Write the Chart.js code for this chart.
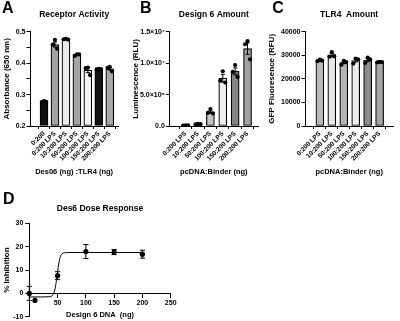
<!DOCTYPE html>
<html>
<head>
<meta charset="utf-8">
<script src="https://cdn.jsdelivr.net/npm/chart.js@4"></script>
<style>
  html, body { margin: 0; padding: 0; background: #fff; width: 400px; height: 321px; overflow: hidden; position: relative; }
  canvas { position: absolute; }
</style>
</head>
<body>
<canvas id="panelA" width="131" height="180" style="left:0;top:0"></canvas>
<canvas id="panelB" width="135" height="180" style="left:131px;top:0"></canvas>
<canvas id="panelC" width="134" height="180" style="left:266px;top:0"></canvas>
<canvas id="panelD" width="260" height="138" style="left:0;top:185px"></canvas>
<script>
// ---------- Panel A: receptor activity ----------
const receptorLabels = ['0:200', '0:200 LPS', '10:200 LPS', '50:200 LPS', '100:200 LPS', '150:200 LPS', '200:200 LPS'];
const receptorMeans  = [0.277, 0.459, 0.476, 0.426, 0.378, 0.381, 0.382];
const receptorErr    = [0.002, 0.008, 0.001, 0.002, 0.008, 0.001, 0.004];
const receptorReps   = [
  [0.279, 0.276, 0.277],
  [0.474, 0.459, 0.446],
  [0.477, 0.476, 0.475],
  [0.428, 0.423, 0.428],
  [0.386, 0.384, 0.362],
  [0.382, 0.380, 0.381],
  [0.388, 0.385, 0.374]
];
const absTickValues = [0.2, 0.3, 0.4, 0.5];
const absTickLabels = ['0.2', '0.3', '0.4', '0.5'];

// ---------- Panel B: Design 6 amount ----------
const binderLabels = ['0:200 LPS', '10:200 LPS', '50:200 LPS', '100:200 LPS', '150:200 LPS', '200:200 LPS'];
const lumMeans = [1.0e5, 3.0e5, 2.2e6, 7.6e6, 8.7e6, 12.3e6];
const lumErr   = [0.5e5, 0.6e5, 0.2e6, 0.6e6, 0.55e6, 0.9e6];
const lumReps  = [
  [1.2e5, 0.6e5, 1.0e5],
  [3.5e5, 2.6e5, 3.0e5],
  [2.7e6, 2.1e6, 2.0e6],
  [8.7e6, 7.2e6, 6.9e6],
  [9.7e6, 8.6e6, 7.8e6],
  [13.5e6, 13.0e6, 10.6e6]
];
const lumTickValues = [0, 5e6, 1e7, 1.5e7];
const lumTickLabels = ['0.0', '5.0×10⁶', '1.0×10⁷', '1.5×10⁷'];

// ---------- Panel C: TLR4 amount ----------
const gfpMeans = [27800, 30000, 26900, 27800, 28000, 27100];
const gfpErr   = [300, 700, 500, 650, 700, 150];
const gfpReps  = [
  [28200, 27500, 27700],
  [31300, 29400, 29600],
  [27600, 26000, 27100],
  [28600, 26500, 28300],
  [29000, 26800, 28300],
  [27200, 27000, 27100]
];
const gfpTickValues = [0, 10000, 20000, 30000, 40000];
const gfpTickLabels = ['0', '10000', '20000', '30000', '40000'];

// ---------- Panel D: dose response ----------
const doseNg     = [0, 10, 50, 100, 150, 200];
const inhibition = [0, -3, 7.6, 17.9, 17.7, 16.8];
const inhibErr   = [3, 0, 1.7, 3, 1.1, 1.7];
const fitNg      = [0, 20, 36, 40, 42, 44, 46, 48, 50, 52, 54, 56, 58, 62, 70, 100, 150, 200];
const fitInhib   = [-1.5, -1.5, -1.4, -1.1, -0.5, 0.6, 2.5, 5.5, 9.2, 12.6, 15.0, 16.4, 17.0, 17.4, 17.5, 17.5, 17.5, 17.5];
const inhibTickValues = [-10, 0, 10, 20, 30];
const inhibTickLabels = ['-10', '0', '10', '20', '30'];
const doseTickValues  = [50, 100, 150, 200, 250];
const doseTickLabels  = ['50', '100', '150', '200', '250'];

// ---------- styling ----------
const FONT = "'Liberation Sans', Arial, Helvetica, sans-serif";
const receptorFill = ['#111111', '#a2a2a2', '#ebebeb', '#a6a6a6', '#f5f5f5', '#111111', '#a8a8a8'];
const lumFill      = ['#bdbdbd', '#dcdcdc', '#c4c4c4', '#f0f0f0', '#858585', '#a2a2a2'];
const gfpFill      = ['#b9b9b9', '#e6e6e6', '#b3b3b3', '#ececec', '#8c8c8c', '#a6a6a6'];
const spread = [0, -0.2, 0.2];   // horizontal scatter of replicate dots

Chart.defaults.font.family = FONT;
Chart.defaults.color = '#000';
Chart.defaults.animation = false;
Chart.defaults.plugins.legend.display = false;
Chart.defaults.plugins.tooltip.enabled = false;

const tickText = (values, labels) => (v) => {
  const k = values.findIndex(t => Math.abs(t - v) < 1e-9 * Math.max(1, Math.abs(t)));
  return k < 0 ? '' : labels[k];
};

// mean ± error whiskers for any dataset carrying an `errors` array
const errorBars = {
  id: 'errorBars',
  afterDatasetsDraw(chart) {
    const ctx = chart.ctx;
    const ys = chart.scales.y;
    chart.data.datasets.forEach((ds, di) => {
      if (!ds.errors) return;
      const meta = chart.getDatasetMeta(di);
      const half = ds.capHalf || 2;
      ctx.save();
      ctx.strokeStyle = '#000';
      ctx.lineWidth = 1;
      meta.data.forEach((el, i) => {
        const e = ds.errors[i];
        if (!e) return;
        const v = ds.data[i].y;
        const x = el.x;
        const yHi = ys.getPixelForValue(v + e);
        const yLo = ys.getPixelForValue(v - e);
        ctx.beginPath();
        ctx.moveTo(x, yHi); ctx.lineTo(x, yLo);
        ctx.moveTo(x - half, yHi); ctx.lineTo(x + half, yHi);
        ctx.moveTo(x - half, yLo); ctx.lineTo(x + half, yLo);
        ctx.stroke();
      });
      ctx.restore();
    });
  }
};

// bold panel letter in the corner
const panelLetter = {
  id: 'panelLetter',
  afterDraw(chart, args, o) {
    if (!o || !o.letter) return;
    const ctx = chart.ctx;
    ctx.save();
    ctx.font = 'bold 16px ' + FONT;
    ctx.fillStyle = '#000';
    ctx.textBaseline = 'alphabetic';
    ctx.textAlign = 'left';
    ctx.fillText(o.letter, o.x, o.y);
    ctx.restore();
  }
};

const axisLine = { display: true, color: '#000', width: 1 };
const tickMarks = (len) => ({ display: true, drawOnChartArea: false, drawTicks: true, tickLength: len, color: '#000', lineWidth: 1 });

function barPanel(id, p) {
  const dots = [];
  p.reps.forEach((set, i) => set.forEach((v, j) => dots.push({ x: i + spread[j], y: v })));
  return new Chart(document.getElementById(id), {
    type: 'bar',
    data: {
      datasets: [
        { type: 'scatter', data: dots, pointRadius: 2.1, pointBackgroundColor: '#000', pointBorderWidth: 0, order: 0 },
        { type: 'bar', data: p.means.map((v, i) => ({ x: i, y: v })), errors: p.errors, capHalf: 2,
          base: p.yMin, backgroundColor: p.fill, borderColor: '#000', borderWidth: 1.2,
          borderSkipped: false, barThickness: 8, order: 1 }
      ]
    },
    options: {
      responsive: false,
      layout: { padding: { left: 0, right: p.padRight, top: 0, bottom: 0 } },
      plugins: {
        title: { display: true, text: p.title, fullSize: false, color: '#000',
                 font: { size: 8.5, weight: 'bold' }, padding: { top: 9.9, bottom: 11.6 } },
        panelLetter: { letter: p.letter, x: p.letterX, y: 13.3 }
      },
      scales: {
        x: {
          type: 'linear', min: p.xMin, max: p.xMax,
          afterBuildTicks: (s) => { s.ticks = p.labels.map((_, i) => ({ value: i })); },
          ticks: { autoSkip: false, minRotation: 45, maxRotation: 45, padding: 1,
                   font: { size: 6.5, weight: 'bold' }, callback: (v) => p.labels[v] },
          grid: tickMarks(3),
          border: axisLine,
          title: { display: true, text: p.xTitle, color: '#000', font: { size: 7.5, weight: 'bold' },
                   padding: { top: 0, bottom: 3.5 } },
          afterFit: (s) => { s.height = 54; }
        },
        y: {
          min: p.yMin, max: p.yMax,
          ticks: { stepSize: p.yStep, padding: 1, font: { size: 7, weight: 'bold' },
                   callback: tickText(p.tickValues, p.tickLabels) },
          grid: tickMarks(3.5),
          border: axisLine,
          title: { display: true, text: p.yTitle, color: '#000', font: { size: 8, weight: 'bold' },
                   padding: { top: p.yTitlePad, bottom: 0 } },
          afterFit: (s) => { s.width = p.yWidth; }
        }
      }
    },
    plugins: [errorBars, panelLetter]
  });
}

barPanel('panelA', {
  letter: 'A', letterX: 2, title: 'Receptor Activity',
  labels: receptorLabels, means: receptorMeans, errors: receptorErr, reps: receptorReps, fill: receptorFill,
  xMin: -0.704, xMax: 6.203, yMin: 0.2, yMax: 0.5, yStep: 0.05,
  tickValues: absTickValues, tickLabels: absTickLabels,
  xTitle: 'Des06 (ng) :TLR4 (ng)', yTitle: 'Absorbance (650 nm)', yTitlePad: 1.7,
  yWidth: 30, padRight: 12.7
});

barPanel('panelB', {
  letter: 'B', letterX: 9, title: 'Design 6 Amount',
  labels: binderLabels, means: lumMeans, errors: lumErr, reps: lumReps, fill: lumFill,
  xMin: -0.72, xMax: 5.27, yMin: 0, yMax: 1.5e7, yStep: 5e6,
  tickValues: lumTickValues, tickLabels: lumTickLabels,
  xTitle: 'pcDNA:Binder (ng)', yTitle: 'Luminescence (RLU)', yTitlePad: 0.2,
  yWidth: 38.3, padRight: 7.7
});

barPanel('panelC', {
  letter: 'C', letterX: 6.3, title: 'TLR4  Amount',
  labels: binderLabels, means: gfpMeans, errors: gfpErr, reps: gfpReps, fill: gfpFill,
  xMin: -0.63, xMax: 5.53, yMin: 0, yMax: 40000, yStep: 10000,
  tickValues: gfpTickValues, tickLabels: gfpTickLabels,
  xTitle: 'pcDNA:Binder (ng)', yTitle: 'GFP Fluoresence (RFU)', yTitlePad: 0.5,
  yWidth: 39, padRight: 6.7
});

new Chart(document.getElementById('panelD'), {
  type: 'scatter',
  data: {
    datasets: [
      { type: 'line', data: fitNg.map((x, i) => ({ x, y: fitInhib[i] })), borderColor: '#000', borderWidth: 1,
        pointRadius: 0, cubicInterpolationMode: 'monotone', fill: false, order: 1 },
      { type: 'scatter', data: doseNg.map((x, i) => ({ x, y: inhibition[i] })), errors: inhibErr, capHalf: 2.6,
        pointRadius: 2.6, pointBackgroundColor: '#000', pointBorderWidth: 0, clip: false, order: 0 }
    ]
  },
  options: {
    responsive: false,
    layout: { padding: { left: 0, right: 89.3, top: 0, bottom: 4.7 } },
    plugins: {
      title: { display: true, text: 'Des6 Dose Response', fullSize: false, color: '#000',
               font: { size: 8.5, weight: 'bold' }, padding: { top: 18.9, bottom: 9.2 } },
      panelLetter: { letter: 'D', x: 3, y: 19 }
    },
    scales: {
      x: {
        type: 'linear', position: { y: 0 }, min: 0, max: 250,
        ticks: { stepSize: 50, maxRotation: 0, padding: 1, font: { size: 7, weight: 'bold' },
                 callback: tickText(doseTickValues, doseTickLabels) },
        grid: tickMarks(4),
        border: axisLine,
        title: { display: true, text: 'Design 6 DNA  (ng)', color: '#000', font: { size: 7.5, weight: 'bold' },
                 padding: { top: 0, bottom: 0 } },
        afterFit: (s) => { s.height = 25.8; }
      },
      y: {
        min: -10, max: 30,
        ticks: { stepSize: 10, padding: 2, font: { size: 7, weight: 'bold' },
                 callback: tickText(inhibTickValues, inhibTickLabels) },
        grid: tickMarks(4),
        border: axisLine,
        title: { display: true, text: '% Inhibition', color: '#000', font: { size: 8, weight: 'bold' },
                 padding: { top: 1.5, bottom: 0 } },
        afterFit: (s) => { s.width = 29.3; }
      }
    }
  },
  plugins: [errorBars, panelLetter]
});
</script>
</body>
</html>
